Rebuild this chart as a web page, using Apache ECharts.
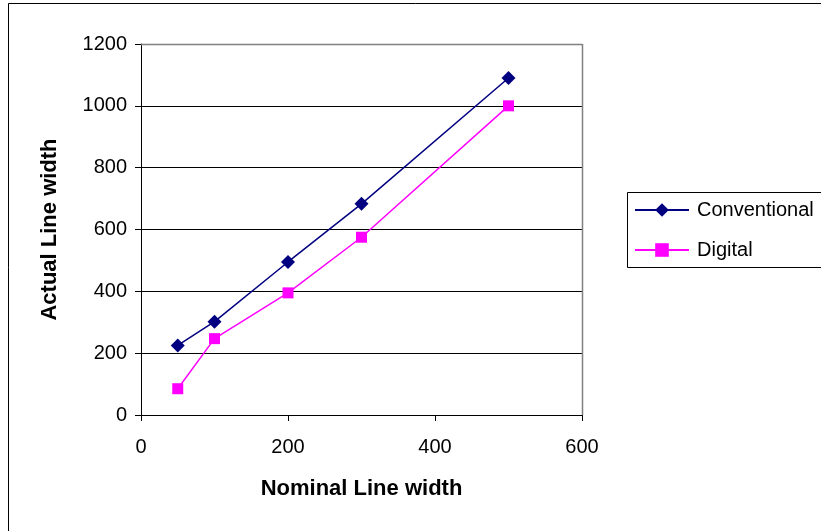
<!DOCTYPE html>
<html><head><meta charset="utf-8">
<script src="https://cdn.jsdelivr.net/npm/echarts@6/dist/echarts.min.js"></script>
<style>html,body{margin:0;padding:0;background:#fff}#c{width:821px;height:531px}</style>
</head><body><div id="c"></div>
<script>
const nominal = [50, 100, 200, 300, 500];
const conventional = [225, 302, 495, 683, 1090];
const digital = [85, 247, 395, 575, 1000];
const seriesNames = ['Conventional', 'Digital'];
const xTitle = 'Nominal Line width';
const yTitle = 'Actual Line width';

const chart = echarts.init(document.getElementById('c'));
const F = 'Liberation Sans, Arial, sans-serif';
chart.setOption({
  animation: false,
  backgroundColor: '#fff',
  textStyle: {fontFamily: F},
  graphic: [
    {type: 'rect', shape: {x: 8.5, y: 3.5, width: 830, height: 540}, style: {fill: 'none', stroke: '#000', lineWidth: 1}, silent: true, z: -1},
    {type: 'rect', shape: {x: 627.5, y: 192.5, width: 210, height: 75}, style: {fill: '#fff', stroke: '#000', lineWidth: 1}, z: 1},
    {type: 'line', shape: {x1: 141, y1: 44.5, x2: 582, y2: 44.5}, style: {stroke: '#808080', lineWidth: 1.5}, z: 1},
    {type: 'line', shape: {x1: 582.5, y1: 44, x2: 582.5, y2: 415}, style: {stroke: '#808080', lineWidth: 1.5}, z: 1}
  ],
  grid: {left: 141, top: 44, right: 239, bottom: 116, containLabel: false},
  legend: {
    orient: 'vertical', left: 634, top: 200, padding: 0, itemWidth: 54, itemHeight: 17, itemGap: 20,
    textStyle: {fontFamily: F, fontSize: 20, color: '#000', padding: [0, 0, 0, 3]},
    data: seriesNames, z: 5
  },
  xAxis: {
    type: 'value', min: 0, max: 600, interval: 200,
    name: xTitle, nameLocation: 'middle', nameGap: 63,
    nameTextStyle: {fontFamily: F, fontSize: 22, fontWeight: 'bold', color: '#000'},
    axisLine: {show: true, onZero: false, lineStyle: {color: '#000', width: 1}},
    axisTick: {show: true, length: 6, lineStyle: {color: '#000'}},
    axisLabel: {fontFamily: F, fontSize: 20, color: '#000', margin: 22, formatter: v => String(v)},
    splitLine: {show: false}
  },
  yAxis: {
    type: 'value', min: 0, max: 1200, interval: 200,
    name: yTitle, nameLocation: 'middle', nameGap: 80, nameRotate: 90,
    nameTextStyle: {fontFamily: F, fontSize: 22, fontWeight: 'bold', color: '#000'},
    axisLine: {show: true, lineStyle: {color: '#000', width: 1}},
    axisTick: {show: true, length: 6, lineStyle: {color: '#000'}},
    axisLabel: {fontFamily: F, fontSize: 20, color: '#000', margin: 14, formatter: v => String(v)},
    splitLine: {show: true, lineStyle: {color: '#000', width: 1}}
  },
  series: [
    {name: seriesNames[0], type: 'line', data: nominal.map((x, i) => [x, conventional[i]]),
     symbol: 'diamond', symbolSize: 14, color: '#000080',
     lineStyle: {color: '#000080', width: 1.5}, itemStyle: {color: '#000080'}, z: 3},
    {name: seriesNames[1], type: 'line', data: nominal.map((x, i) => [x, digital[i]]),
     symbol: 'rect', symbolSize: 11, color: '#FF00FF',
     lineStyle: {color: '#FF00FF', width: 1.5}, itemStyle: {color: '#FF00FF'}, z: 2}
  ]
});
</script></body></html>
